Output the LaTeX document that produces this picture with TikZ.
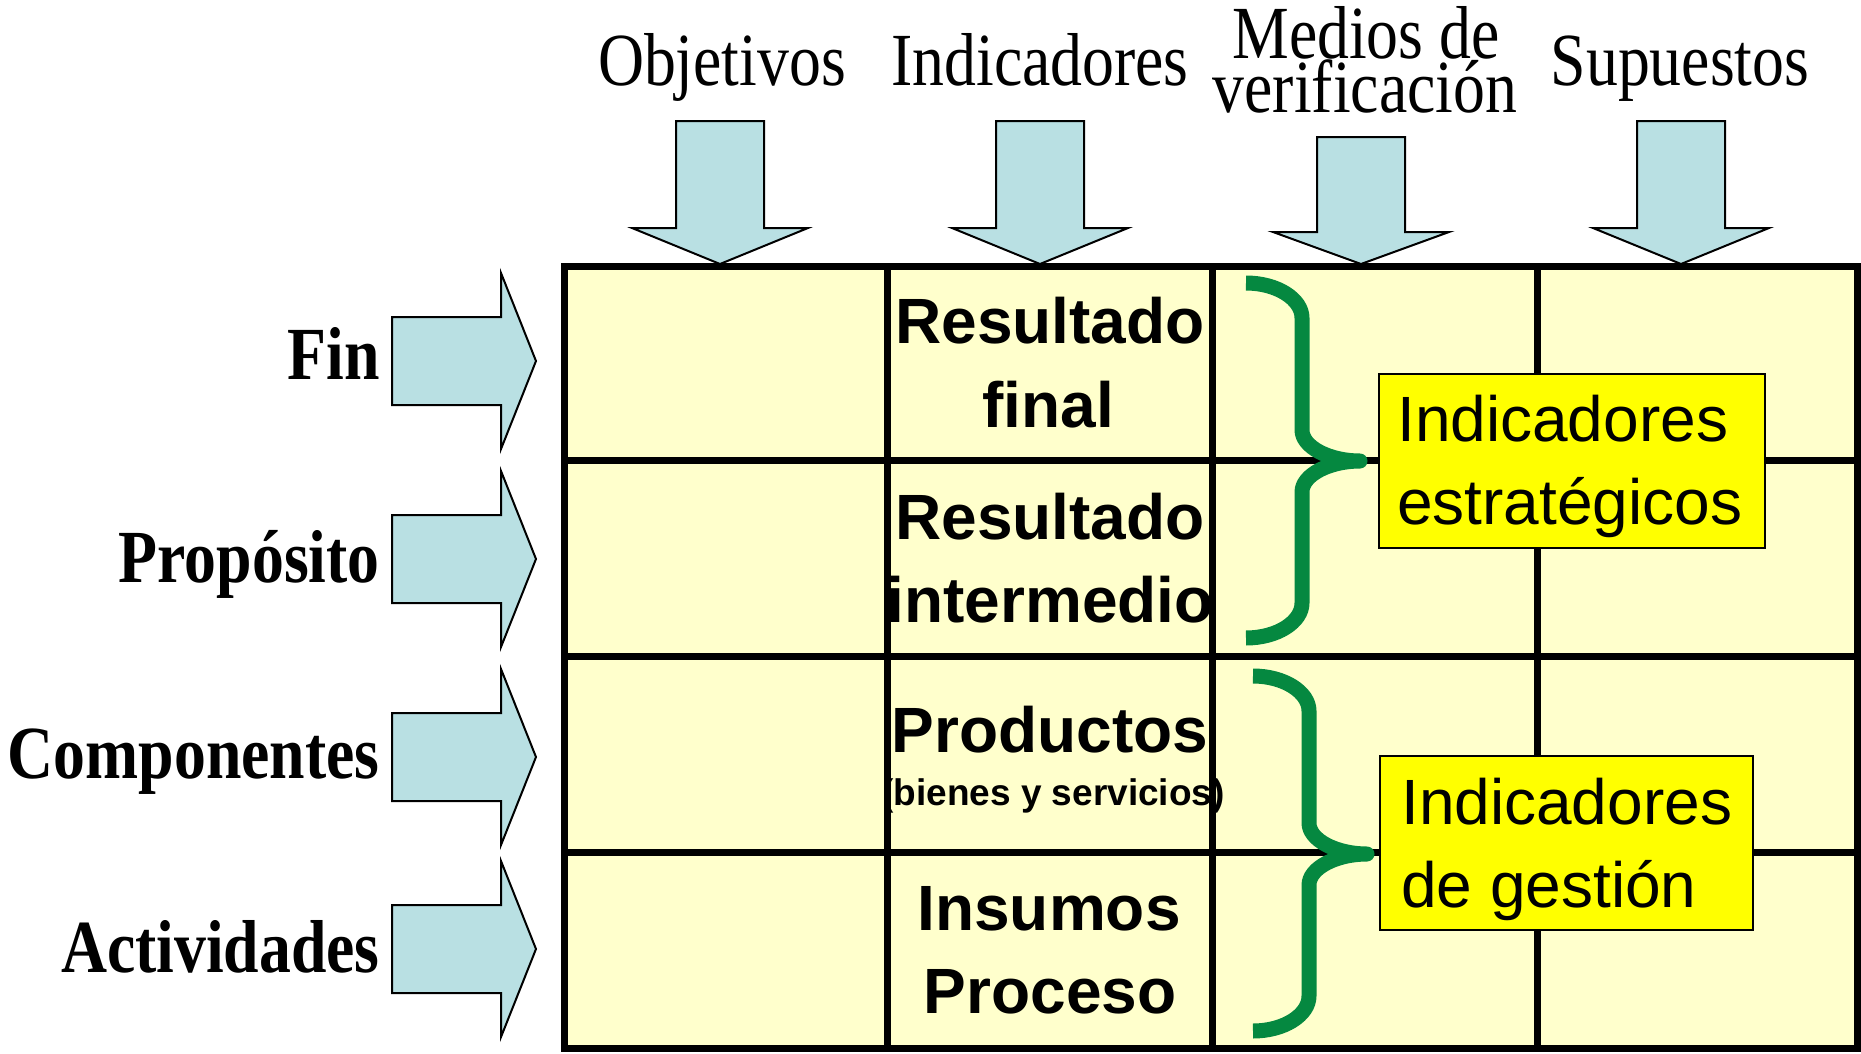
\documentclass[tikz,border=0pt]{standalone}
\usepackage{fontspec}
\setmainfont{Liberation Serif}
\newfontfamily\arialf{Liberation Sans}
\usepackage{graphicx}
\definecolor{cellyellow}{RGB}{255,255,204}
\definecolor{arrowblue}{RGB}{185,224,227}
\definecolor{bracegreen}{RGB}{5,136,64}
\definecolor{boxyellow}{RGB}{255,255,0}
\newcommand\condtxt[1]{\scalebox{0.85}[1]{#1}}
\tikzset{
  gridline/.style={line width=7pt, draw=black},
  fatarrow/.style={fill=arrowblue, draw=black, line width=2pt, line join=miter},
  bracestyle/.style={draw=bracegreen, line width=15pt, line join=round, line cap=butt},
  indbox/.style={fill=boxyellow, draw=black, line width=2pt},
  hdr/.style={inner sep=0pt, anchor=base, font=\fontsize{75}{75}\selectfont},
  rowlabel/.style={inner sep=0pt, anchor=base east, font=\fontsize{75}{75}\selectfont\bfseries},
  celltext/.style={inner sep=0pt, anchor=base, font=\arialf\fontsize{64}{64}\selectfont\bfseries},
  smalltext/.style={inner sep=0pt, anchor=base, font=\arialf\fontsize{37}{37}\selectfont\bfseries},
  boxtext/.style={inner sep=0pt, anchor=base west, font=\arialf\fontsize{64}{64}\selectfont},
  bracepic/.pic={
    \draw[bracestyle] (0,0) .. controls (31,0) and (56,16) .. (56,35) -- (56,147)
      .. controls (56,164) and (83,178) .. (114,178)
      .. controls (83,178) and (56,192) .. (56,209) -- (56,320)
      .. controls (56,339) and (31,355) .. (0,355);
  }
}
\begin{document}
\begin{tikzpicture}[x=1pt,y=-1pt]
\useasboundingbox (0,0) rectangle (1861,1053);

% table
\fill[cellyellow] (564,266) rectangle (1857,1048);
\foreach \gx in {887,1212,1537}
  \draw[gridline] (\gx,266) -- (\gx,1048);
\foreach \gy in {460,656,852}
  \draw[gridline] (564,\gy) -- (1857,\gy);
\draw[gridline] (564,266) rectangle (1857,1048);

% top arrows
\foreach \cx/\tp/\bs in {720/121/228, 1040/121/228, 1361/137/232, 1681/121/228}
  \draw[fatarrow] (\cx-44,\tp) -- (\cx+44,\tp) -- (\cx+44,\bs) -- (\cx+88,\bs)
    -- (\cx,264) -- (\cx-88,\bs) -- (\cx-44,\bs) -- cycle;

% left arrows
\foreach \cy in {361,559,757,949}
  \draw[fatarrow] (392,\cy-44) -- (501,\cy-44) -- (501,\cy-88) -- (536,\cy)
    -- (501,\cy+88) -- (501,\cy+44) -- (392,\cy+44) -- cycle;

% headers
\node[hdr] (hobj) at (722,85) {\condtxt{Objetivos}};
\node[hdr] (hind) at (1040,85) {\condtxt{Indicadores}};
\node[hdr] (hmed) at (1366,58) {\condtxt{Medios de}};
\node[hdr] (hver) at (1365,112) {\condtxt{verificación}};
\node[hdr] (hsup) at (1680,85) {\condtxt{Supuestos}};

% row labels
\node[rowlabel] (lfin) at (380,379) {\condtxt{Fin}};
\node[rowlabel] (lpro) at (380,582) {\condtxt{Propósito}};
\node[rowlabel] (lcom) at (380,778) {\condtxt{Componentes}};
\node[rowlabel] (lact) at (380,972) {\condtxt{Actividades}};

% indicator column texts
\node[celltext] (t1a) at (1050,343) {Resultado};
\node[celltext] (t1b) at (1048,427) {final};
\node[celltext] (t2a) at (1050,539) {Resultado};
\node[celltext] (t2b) at (1050,622) {intermedio};
\node[celltext] (t3a) at (1050,752) {Productos};
\begin{scope}
  \clip (891,660) rectangle (1300,848);
  \node[smalltext] (t3b) at (1053,805) {(bienes y servicios)};
\end{scope}
\node[celltext] (t4a) at (1049,930) {Insumos};
\node[celltext] (t4b) at (1050,1013) {Proceso};

% braces
\pic at (1246,283) {bracepic};
\pic at (1253,676) {bracepic};

% indicator boxes
\draw[indbox] (1379,374) rectangle (1765,548);
\node[boxtext] (b1a) at (1397,441) {Indicadores};
\node[boxtext] (b1b) at (1397,524) {estratégicos};
\draw[indbox] (1380,756) rectangle (1753,930);
\node[boxtext] (b2a) at (1401,824) {Indicadores};
\node[boxtext] (b2b) at (1401,907) {de gestión};
\end{tikzpicture}
\end{document}
